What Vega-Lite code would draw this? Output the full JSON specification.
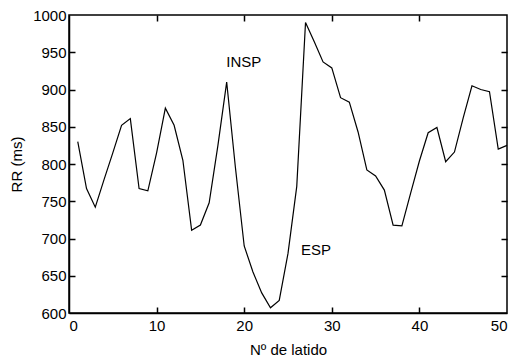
{
  "$schema": "https://vega.github.io/schema/vega-lite/v6.json",
  "width": 438,
  "height": 298,
  "autosize": {"type": "none"},
  "padding": {"left": 69, "top": 15, "right": 9, "bottom": 45},
  "background": "white",
  "config": {
    "view": {"stroke": "black", "strokeWidth": 1.5},
    "font": "Liberation Sans",
    "axis": {"grid": false, "domainColor": "black", "domainWidth": 1.5, "tickColor": "black", "tickWidth": 1.5, "labelColor": "black", "titleColor": "black", "labelFont": "Liberation Sans", "titleFont": "Liberation Sans", "labelFontSize": 15, "titleFontSize": 15, "titleFontWeight": "normal"}
  },
  "datasets": {
    "rr": [
      {"beat": 1, "rr": 830}, {"beat": 2, "rr": 767}, {"beat": 3, "rr": 742}, {"beat": 4, "rr": 779},
      {"beat": 5, "rr": 815}, {"beat": 6, "rr": 852}, {"beat": 7, "rr": 861}, {"beat": 8, "rr": 767},
      {"beat": 9, "rr": 764}, {"beat": 10, "rr": 815}, {"beat": 11, "rr": 875}, {"beat": 12, "rr": 852},
      {"beat": 13, "rr": 805}, {"beat": 14, "rr": 711}, {"beat": 15, "rr": 718}, {"beat": 16, "rr": 748},
      {"beat": 17, "rr": 825}, {"beat": 18, "rr": 910}, {"beat": 19, "rr": 795}, {"beat": 20, "rr": 690},
      {"beat": 21, "rr": 655}, {"beat": 22, "rr": 627}, {"beat": 23, "rr": 607}, {"beat": 24, "rr": 617},
      {"beat": 25, "rr": 680}, {"beat": 26, "rr": 770}, {"beat": 27, "rr": 990}, {"beat": 28, "rr": 964},
      {"beat": 29, "rr": 937}, {"beat": 30, "rr": 929}, {"beat": 31, "rr": 889}, {"beat": 32, "rr": 883},
      {"beat": 33, "rr": 843}, {"beat": 34, "rr": 792}, {"beat": 35, "rr": 784}, {"beat": 36, "rr": 765},
      {"beat": 37, "rr": 718}, {"beat": 38, "rr": 717}, {"beat": 39, "rr": 761}, {"beat": 40, "rr": 804},
      {"beat": 41, "rr": 842}, {"beat": 42, "rr": 849}, {"beat": 43, "rr": 803}, {"beat": 44, "rr": 816},
      {"beat": 45, "rr": 862}, {"beat": 46, "rr": 905}, {"beat": 47, "rr": 900}, {"beat": 48, "rr": 897},
      {"beat": 49, "rr": 820}, {"beat": 50, "rr": 825}
    ],
    "labels": [
      {"beat": 19.95, "rr": 937, "text": "INSP"},
      {"beat": 28.2, "rr": 685, "text": "ESP"}
    ]
  },
  "layer": [
    {
      "data": {"name": "rr"},
      "mark": {"type": "line", "color": "black", "strokeWidth": 1.2},
      "encoding": {
        "x": {"field": "beat", "type": "quantitative", "scale": {"domain": [0, 50], "nice": false},
              "axis": {"title": "Nº de latido", "values": [0, 10, 20, 30, 40, 50], "format": "d", "ticks": false, "labelPadding": 5, "titlePadding": 9}},
        "y": {"field": "rr", "type": "quantitative", "scale": {"domain": [600, 1000], "nice": false, "zero": false},
              "axis": {"title": "RR (ms)", "values": [600, 650, 700, 750, 800, 850, 900, 950, 1000], "format": "d", "ticks": false, "labelPadding": 3, "titlePadding": 8}}
      }
    },
    {
      "data": {"name": "labels"},
      "mark": {"type": "text", "color": "black", "fontSize": 15, "font": "Liberation Sans", "align": "center", "baseline": "middle"},
      "encoding": {
        "x": {"field": "beat", "type": "quantitative", "axis": null},
        "y": {"field": "rr", "type": "quantitative", "axis": null},
        "text": {"field": "text"}
      }
    },
    {
      "data": {"name": "rr"},
      "mark": {"type": "point", "opacity": 0},
      "encoding": {
        "x": {"field": "beat", "type": "quantitative", "axis": {"orient": "top", "labels": false, "title": null, "values": [10, 20, 30, 40], "ticks": true, "tickSize": 6, "tickColor": "black", "offset": -6, "domain": false}},
        "y": {"field": "rr", "type": "quantitative", "axis": {"orient": "right", "labels": false, "title": null, "values": [650, 700, 750, 800, 850, 900, 950], "ticks": true, "tickSize": 6, "tickColor": "black", "offset": -6, "domain": false}}
      }
    },
    {
      "data": {"name": "rr"},
      "mark": {"type": "point", "opacity": 0},
      "encoding": {
        "x": {"field": "beat", "type": "quantitative", "axis": {"orient": "bottom", "labels": false, "title": null, "values": [10, 20, 30, 40], "ticks": true, "tickSize": 6, "tickColor": "black", "offset": -6, "domain": false}},
        "y": {"field": "rr", "type": "quantitative", "axis": {"orient": "left", "labels": false, "title": null, "values": [650, 700, 750, 800, 850, 900, 950], "ticks": true, "tickSize": 6, "tickColor": "black", "offset": -6, "domain": false}}
      }
    }
  ],
  "resolve": {"axis": {"x": "independent", "y": "independent"}}
}
